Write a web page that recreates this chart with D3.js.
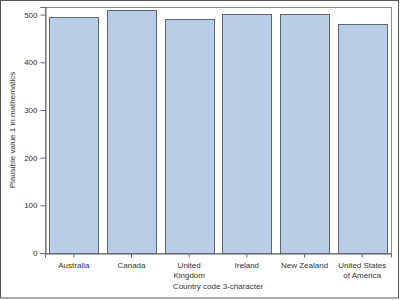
<!DOCTYPE html>
<html>
<head>
<meta charset="utf-8">
<script src="https://cdn.jsdelivr.net/npm/d3@7"></script>
<style>
  body { margin: 0; background: #fff; }
  svg { display: block; font-family: 'Liberation Sans', Arial, sans-serif; }
</style>
</head>
<body>
<div id="chart"></div>
<script>
const countries = ['Australia', 'Canada', 'United Kingdom', 'Ireland', 'New Zealand', 'United States of America'];
const tickLines = [['Australia'], ['Canada'], ['United', 'Kingdom'], ['Ireland'], ['New Zealand'], ['United States', 'of America']];
const mathScores = [494, 510, 490, 501, 501, 481];
const yTicks = [0, 100, 200, 300, 400, 500];

const color = {
  fill: '#b9cee6',
  stroke: '#5c6773',
  frame: '#8a8a8a',
  text: '#333333',
  border: '#555555'
};

const w = 400;
const h = 300;
const margin = { top: 7, right: 9, bottom: 47, left: 45 };
const width = w - margin.left - margin.right;
const height = h - margin.top - margin.bottom;

const svg = d3.select('#chart')
  .append('svg')
  .attr('width', w)
  .attr('height', h);

// outer border of the image
svg.append('rect')
  .attr('x', 0.5)
  .attr('y', 0.5)
  .attr('width', w - 2)
  .attr('height', h - 2.5)
  .attr('fill', 'none')
  .attr('stroke', color.border);

const g = svg.append('g')
  .attr('transform', `translate(${margin.left}, ${margin.top})`);

const data = countries.map((c, i) => ({ country: c, value: mathScores[i] }));

const x = d3.scaleBand()
  .domain(countries)
  .range([0, width])
  .paddingInner(0.15)
  .paddingOuter(0.075);

const y = d3.scaleLinear()
  .domain([0, 516])
  .range([height, 0]);

// plot frame
g.append('rect')
  .attr('x', 0.5)
  .attr('y', 0.5)
  .attr('width', width)
  .attr('height', height)
  .attr('fill', 'none')
  .attr('stroke', color.frame);

// bars
g.selectAll('.bar')
  .data(data)
  .enter()
  .append('rect')
  .attr('class', 'bar')
  .attr('x', (d) => Math.round(x(d.country)) + 0.5)
  .attr('y', (d) => Math.round(y(d.value)) + 0.5)
  .attr('width', Math.round(x.bandwidth()))
  .attr('height', (d) => Math.round(height - y(d.value)))
  .attr('fill', color.fill)
  .attr('stroke', color.stroke);

// y axis
const yAxis = g.append('g')
  .attr('transform', 'translate(0.5, 0)')
  .call(d3.axisLeft(y).tickValues(yTicks).tickSize(5).tickPadding(3));
yAxis.select('.domain').attr('stroke', color.stroke);
yAxis.selectAll('.tick line').attr('stroke', color.stroke);
yAxis.selectAll('.tick text')
  .attr('fill', color.text)
  .style('font-size', '8px')
  .style('font-family', 'inherit');

// x axis
const xAxis = g.append('g')
  .attr('transform', `translate(0, ${height + 0.5})`)
  .call(d3.axisBottom(x).tickSize(4).tickFormat(''));
xAxis.select('.domain').attr('stroke', color.stroke);
xAxis.selectAll('.tick line').attr('stroke', color.stroke);
xAxis.selectAll('.tick').each(function (d, i) {
  const t = d3.select(this).append('text')
    .attr('fill', color.text)
    .attr('text-anchor', 'middle')
    .style('font-size', '8px');
  tickLines[i].forEach((line, j) => {
    t.append('tspan')
      .attr('x', 0)
      .attr('y', 14 + j * 10)
      .text(line);
  });
});

// axis titles
svg.append('text')
  .attr('x', margin.left + width / 2)
  .attr('y', 289)
  .attr('text-anchor', 'middle')
  .attr('fill', color.text)
  .style('font-size', '8px')
  .text('Country code 3-character');

svg.append('text')
  .attr('transform', `translate(15, ${margin.top + height / 2}) rotate(-90)`)
  .attr('text-anchor', 'middle')
  .attr('fill', color.text)
  .style('font-size', '8px')
  .text('Plausible value 1 in mathematics');
</script>
</body>
</html>
